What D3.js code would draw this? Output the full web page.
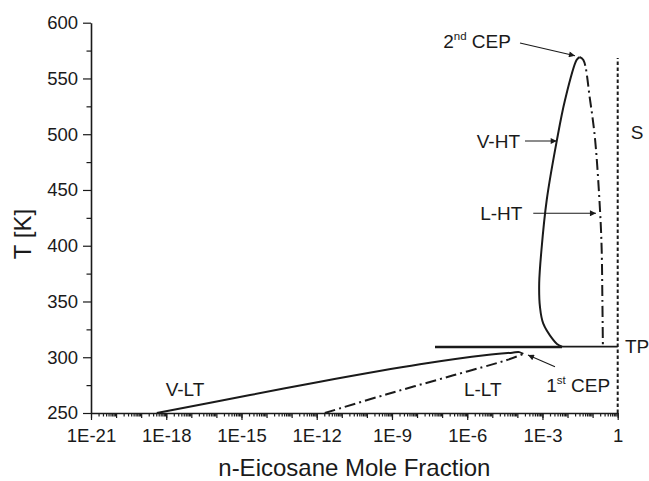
<!DOCTYPE html>
<html>
<head>
<meta charset="utf-8">
<script src="https://cdn.jsdelivr.net/npm/d3@7"></script>
<style>
  html, body { margin: 0; padding: 0; background: #fff; }
  svg { display: block; }
  text { font-family: "Liberation Sans", Arial, sans-serif; fill: #1a1a1a; }
</style>
</head>
<body>
<svg id="chart" width="649" height="481"></svg>
<script>
// ---------- data (x = n-eicosane mole fraction, y = T [K]) ----------
const vltX = [4.2e-19, 2.2e-15, 1.35e-12, 1.3e-8, 6.0e-6, 6.3e-5, 1.19e-4, 1.72e-4];
const vltT = [250, 266.1, 278.1, 293.7, 302.0, 304.1, 304.6, 303.0];

const lltX = [2.1e-12, 6.2e-10, 2.8e-7, 3.8e-5, 1.72e-4];
const lltT = [250, 266.8, 283.8, 297.5, 303.0];

const vhtLowX = [5.2e-8, 6.0e-3];
const vhtLowT = [309.0, 309.0];

const vhtX = [6.0e-3, 3.8e-3, 2.69e-3, 1.07e-3, 7.94e-4, 7.41e-4, 9.12e-4, 1.48e-3, 3.72e-3, 7.94e-3, 2.29e-2, 3.0e-2];
const vhtT = [309.4, 311.9, 315.5, 330.4, 345.3, 366.3, 396.2, 441, 494, 530.7, 566.5, 569.2];

const lhtX = [3.0e-2, 4.27e-2, 7.9e-2, 0.126, 0.2, 0.23, 0.245, 0.257];
const lhtT = [569.2, 566.5, 530.7, 494.8, 429.3, 396.2, 351.3, 309.4];

const tpX = [5.2e-8, 1];
const tpT = [309.6, 309.6];

const sX = [1, 1];
const sT = [250, 568.3];

const xTickValues = [1e-21, 1e-18, 1e-15, 1e-12, 1e-9, 1e-6, 1e-3, 1];
const xTickLabels = ["1E-21", "1E-18", "1E-15", "1E-12", "1E-9", "1E-6", "1E-3", "1"];
const yTickValues = [250, 300, 350, 400, 450, 500, 550, 600];
const yTickLabels = ["250", "300", "350", "400", "450", "500", "550", "600"];

const xTitle = "n-Eicosane Mole Fraction";
const yTitle = "T [K]";

// annotation labels: [text, superscript, rest, x, T]
const labels = [
  ["2", "nd", " CEP", 1.1e-7, 577.0],
  ["V-HT", "", "", 2.4e-6, 487.4],
  ["L-HT", "", "", 3.3e-6, 423.1],
  ["S", "", "", 3.3, 495.4],
  ["TP", "", "", 1.95, 304.1],
  ["1", "st", " CEP", 1.42e-3, 269.1],
  ["L-LT", "", "", 7.4e-7, 265.5],
  ["V-LT", "", "", 9.5e-19, 265.5]
];
// arrows: [x0, T0, x1, T1]
const arrows = [
  [1.27e-4, 581.8, 1.98e-2, 570.4],
  [2.01e-4, 493.9, 3.7e-3, 493.9],
  [4.3e-4, 429.1, 0.136, 429.1],
  [3.16e-3, 291.5, 2.65e-4, 302.0]
];

// ---------- layout ----------
const W = 649, H = 481;
const margin = { left: 91, right: 31.3, top: 22.7, bottom: 68 };
const svg = d3.select("#chart");

const x = d3.scaleLog().domain([1e-21, 1]).range([margin.left, W - margin.right]);
const y = d3.scaleLinear().domain([250, 600]).range([H - margin.bottom, margin.top]);

const ink = "#1a1a1a";

// defs: arrowhead
svg.append("defs").append("marker")
  .attr("id", "arr").attr("viewBox", "0 0 10 10")
  .attr("refX", 10).attr("refY", 5)
  .attr("markerWidth", 9).attr("markerHeight", 6)
  .attr("markerUnits", "userSpaceOnUse")
  .attr("orient", "auto")
  .append("path").attr("d", "M0,0 L10,5 L0,10 Z").attr("fill", ink);

// ---------- axes ----------
const minorX = [];
for (let e = -21; e < 0; e++) {
  for (let k = 2; k <= 9; k++) minorX.push(k * Math.pow(10, e));
}
const decadeX = [];
for (let e = -21; e <= 0; e++) decadeX.push(Math.pow(10, e));

const gxMinor = svg.append("g").attr("transform", `translate(0,${y(250)})`)
  .call(d3.axisBottom(x).tickValues(minorX).tickSize(3.5).tickFormat(""));
gxMinor.select(".domain").remove();
const gxDec = svg.append("g").attr("transform", `translate(0,${y(250)})`)
  .call(d3.axisBottom(x).tickValues(decadeX).tickSize(5).tickFormat(""));
gxDec.select(".domain").remove();

const gx = svg.append("g").attr("transform", `translate(0,${y(250)})`)
  .call(d3.axisBottom(x).tickValues(xTickValues).tickSize(7).tickSizeOuter(0).tickPadding(9)
    .tickFormat((d, i) => xTickLabels[i]));
gx.selectAll("text").style("font-size", "18.5px");

const minorY = d3.range(275, 600, 50);
const gyMinor = svg.append("g").attr("transform", `translate(${x(1e-21)},0)`)
  .call(d3.axisLeft(y).tickValues(minorY).tickSize(4.5).tickFormat(""));
gyMinor.select(".domain").remove();

const gy = svg.append("g").attr("transform", `translate(${x(1e-21)},0)`)
  .call(d3.axisLeft(y).tickValues(yTickValues).tickSize(8).tickSizeOuter(0).tickPadding(5)
    .tickFormat((d, i) => yTickLabels[i]));
gy.selectAll("text").style("font-size", "18.5px");

svg.selectAll(".domain").attr("stroke", ink).attr("stroke-width", 1.6);
svg.selectAll(".tick line").attr("stroke", ink).attr("stroke-width", 1.2);
svg.selectAll(".tick text").attr("fill", ink);

// axis titles
svg.append("text")
  .attr("x", (x(1e-21) + x(1)) / 2).attr("y", 476)
  .attr("text-anchor", "middle").style("font-size", "24px")
  .text(xTitle);
svg.append("text")
  .attr("transform", `translate(31,234) rotate(-90)`)
  .attr("text-anchor", "middle").style("font-size", "24px")
  .text(yTitle);

// ---------- curves ----------
const zip = (xs, ts) => xs.map((v, i) => [v, ts[i]]);
const lineLin = d3.line().x(d => x(d[0])).y(d => y(d[1]));
const lineSmooth = d3.line().x(d => x(d[0])).y(d => y(d[1])).curve(d3.curveCatmullRom.alpha(0.5));

function draw(data, gen, opts) {
  svg.append("path").datum(data)
    .attr("d", gen)
    .attr("fill", "none")
    .attr("stroke", ink)
    .attr("stroke-width", opts.w || 2)
    .attr("stroke-dasharray", opts.dash || null)
    .attr("stroke-linejoin", "round");
}

const dashDot = "11,4,2,4";
draw(zip(vltX, vltT), lineSmooth, { w: 2 });
draw(zip(lltX, lltT), lineSmooth, { w: 2, dash: dashDot });
draw(zip(vhtLowX, vhtLowT), lineLin, { w: 2 });
draw(zip(vhtX, vhtT), lineSmooth, { w: 2 });
draw(zip(lhtX, lhtT), lineSmooth, { w: 2, dash: dashDot });
draw(zip(tpX, tpT), lineLin, { w: 1.8 });
draw(zip(sX, sT), lineLin, { w: 2, dash: "3.5,2.5" });

// ---------- annotations ----------
arrows.forEach(a => {
  svg.append("line")
    .attr("x1", x(a[0])).attr("y1", y(a[1]))
    .attr("x2", x(a[2])).attr("y2", y(a[3]))
    .attr("stroke", ink).attr("stroke-width", 1.1)
    .attr("marker-end", "url(#arr)");
});

labels.forEach(l => {
  const t = svg.append("text")
    .attr("x", x(l[3])).attr("y", y(l[4]))
    .style("font-size", "19px");
  t.append("tspan").text(l[0]);
  if (l[1]) {
    t.append("tspan").attr("dy", -8).style("font-size", "11.5px").text(l[1]);
    t.append("tspan").attr("dy", 8).text(l[2]);
  }
});
</script>
</body>
</html>
